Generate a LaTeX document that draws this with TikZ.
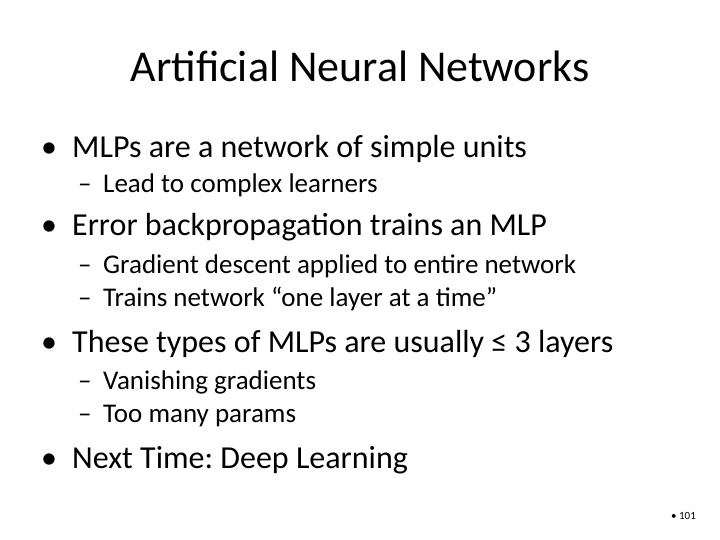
\documentclass[tikz,border=0pt]{standalone}
\usepackage{fontspec}
\setmainfont{Carlito}
\frenchspacing
\begin{document}
\begin{tikzpicture}[x=1pt,y=-1pt,
  bul/.style={anchor=base west,inner sep=0pt,font=\fontsize{32}{34}\selectfont},
  sub/.style={anchor=base west,inner sep=0pt,font=\fontsize{27}{29}\selectfont}]
\fill[white] (0,0) rectangle (720,540);
\node[anchor=base,inner sep=0pt,font=\fontsize{44}{48}\selectfont] (title) at (360,82) {Artificial Neural Networks};
\foreach \y/\t [count=\i] in {158/MLPs are a network of simple units,236/Error backpropagation trains an MLP,352/These types of MLPs are usually ≤ 3 layers,468/Next Time: Deep Learning}{
  \node[bul,anchor=base] (bd\i) at (49,\y) {•};
  \node[bul] (b\i) at (72,\y) {\t};
}
\foreach \y/\t [count=\i] in {193/Lead to complex learners,273/Gradient descent applied to entire network,306/Trains network “one layer at a time”,389/Vanishing gradients,422/Too many params}{
  \node[sub] (sd\i) at (78,\y) {–};
  \node[sub] (s\i) at (103,\y) {\t};
}
\node[anchor=base west,inner sep=0pt,font=\fontsize{11}{12}\selectfont] (pg) at (671,519) {• 101};
\end{tikzpicture}
\end{document}
